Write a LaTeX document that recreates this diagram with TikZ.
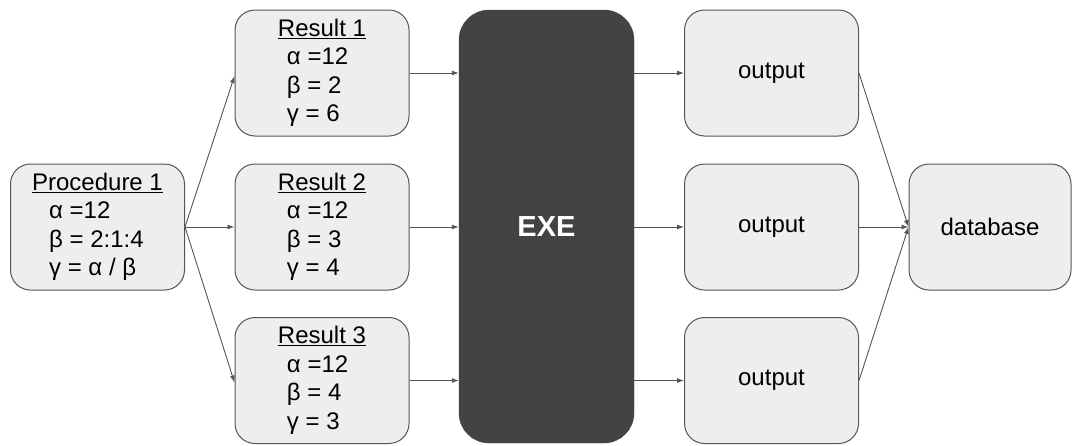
\documentclass[tikz,border=0pt]{standalone}
\usepackage{fontspec}
\setmainfont{Liberation Sans}
\usetikzlibrary{arrows.meta}
\definecolor{boxfill}{HTML}{EEEEEE}
\definecolor{boxline}{HTML}{555555}
\definecolor{exefill}{HTML}{434343}
\definecolor{arrowc}{HTML}{555555}
\tikzset{
  box/.style={draw=boxline, fill=boxfill, line width=1pt, rounded corners=20pt,
    minimum width=174pt, minimum height=126pt, inner sep=0pt,
    font=\fontsize{24}{28.5}\selectfont, align=left},
  exebox/.style={draw=exefill, fill=exefill, rounded corners=30pt,
    minimum width=175pt, minimum height=433pt, inner sep=0pt,
    text=white, font=\bfseries\fontsize{29}{35}\selectfont},
  conn/.style={draw=arrowc, line width=0.9pt, -{Latex[length=7pt,width=5pt]}},
}
\newcommand{\resulttext}[4]{\underline{Result #1}\\\hspace*{9pt}α =#2\\\hspace*{9pt}β = #3\\\hspace*{9pt}γ = #4}
\begin{document}
\begin{tikzpicture}[x=1pt,y=-1pt]
\useasboundingbox (0,0) rectangle (1073,445);
\node[box] (proc) at (97.5,227) {\underline{Procedure 1}\\\hspace*{17pt}α =12\\\hspace*{17pt}β = 2:1:4\\\hspace*{17pt}γ = α / β};
\node[box] (r1) at (322,73) {\resulttext{1}{12}{2}{6}};
\node[box] (r2) at (322,227) {\resulttext{2}{12}{3}{4}};
\node[box] (r3) at (322,380.5) {\resulttext{3}{12}{4}{3}};
\node[exebox] (exe) at (546.5,226.5) {EXE};
\node[box] (o1) at (771.5,73) {output};
\node[box] (o2) at (771.5,227) {output};
\node[box] (o3) at (771.5,380.5) {output};
\node[box, minimum width=162pt] (db) at (990,227) {database};
\draw[conn] (proc.east) -- ([yshift=-3pt]r1.west);
\draw[conn] (proc.east) -- (r2.west);
\draw[conn] (proc.east) -- ([yshift=-2pt]r3.west);
\draw[conn] (r1.east) -- (exe.west |- r1.east);
\draw[conn] (r2.east) -- (exe.west |- r2.east);
\draw[conn] (r3.east) -- (exe.west |- r3.east);
\draw[conn] (exe.east |- o1.west) -- (o1.west);
\draw[conn] (exe.east |- o2.west) -- (o2.west);
\draw[conn] (exe.east |- o3.west) -- (o3.west);
\draw[conn] (o1.east) -- (db.west);
\draw[conn] (o2.east) -- (db.west);
\draw[conn] (o3.east) -- (db.west);
\end{tikzpicture}
\end{document}
